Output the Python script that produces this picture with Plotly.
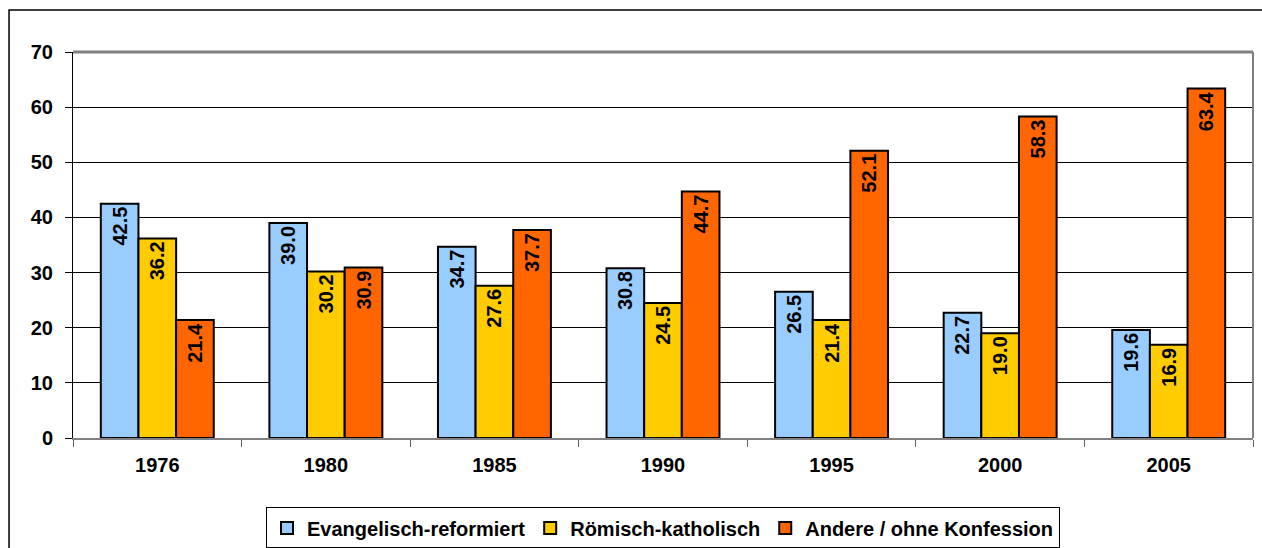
import plotly.graph_objects as go

years = ["1976", "1980", "1985", "1990", "1995", "2000", "2005"]
evang = [42.5, 39.0, 34.7, 30.8, 26.5, 22.7, 19.6]
kath = [36.2, 30.2, 27.6, 24.5, 21.4, 19.0, 16.9]
andere = [21.4, 30.9, 37.7, 44.7, 52.1, 58.3, 63.4]
names = ["Evangelisch-reformiert", "Römisch-katholisch", "Andere / ohne Konfession"]
colors = ["#99CCFF", "#FFCC00", "#FF6600"]

FONT = "Arial, Liberation Sans, sans-serif"

fig = go.Figure()
for vals, name, col in zip([evang, kath, andere], names, colors):
    fig.add_trace(go.Bar(
        x=years, y=vals, name=name,
        marker=dict(color=col, line=dict(color="black", width=2)),
        texttemplate="%{y:.1f}", textposition="inside", insidetextanchor="end",
        textangle=-90, textfont=dict(family=FONT, size=20, color="black", weight="bold"),
        constraintext="none",
    ))

fig.update_layout(
    width=1262, height=548,
    margin=dict(l=73, r=9, t=52, b=110, autoexpand=False),
    paper_bgcolor="white", plot_bgcolor="white",
    barmode="group", bargap=0.33, bargroupgap=0,
    font=dict(family=FONT, size=20, color="black"),
    showlegend=True,
    legend=dict(orientation="h", x=0.5, xanchor="center",
                yref="container", y=0.074, yanchor="top",
                bordercolor="black", borderwidth=1,
                font=dict(family=FONT, size=20, color="black", weight="bold"),
                itemwidth=30, tracegroupgap=0),
    xaxis=dict(showline=True, linecolor="#808080", linewidth=2, automargin=False,
               ticks="outside", tickson="boundaries", ticklen=7, tickcolor="#606060",
               ticklabelstandoff=8,
               tickfont=dict(family=FONT, size=20, weight="bold"),
               showgrid=False),
    yaxis=dict(range=[0, 70], dtick=10, showline=True, linecolor="black", linewidth=1,
               automargin=False,
               ticks="outside", ticklen=7, tickcolor="black", ticklabelstandoff=8,
               showgrid=True, gridcolor="black", gridwidth=1,
               tickfont=dict(family=FONT, size=20, weight="bold"), zeroline=False),
    shapes=[
        dict(type="line", xref="paper", yref="paper", x0=0, x1=1, y0=1, y1=1,
             line=dict(color="#808080", width=3)),
        dict(type="line", xref="paper", yref="paper", x0=1, x1=1, y0=0, y1=1,
             line=dict(color="#808080", width=2)),
        dict(type="rect", xref="paper", yref="paper", x0=-0.0542, x1=1.2, y0=-0.5, y1=1.1088,
             line=dict(color="black", width=1.5), fillcolor="rgba(0,0,0,0)"),
    ],
)

fig.write_html("out.html", config={"displayModeBar": False},
               post_script="document.body.style.margin='0';")
